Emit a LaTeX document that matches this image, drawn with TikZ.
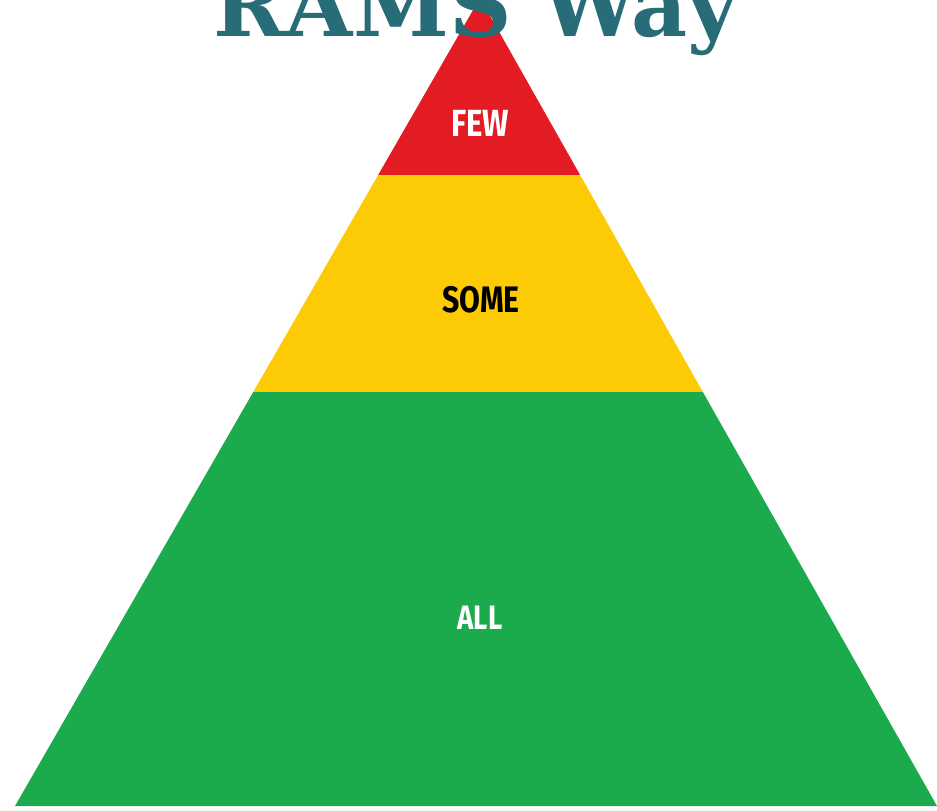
\documentclass[tikz,border=0pt]{standalone}
\usepackage{fontspec}
\usetikzlibrary{calc}
\newfontfamily\titlefont{DejaVu Serif}
\newfontfamily\labelfont{Fira Sans}[FakeStretch=0.82]
\definecolor{pyrred}{HTML}{E31B23}
\definecolor{pyryellow}{HTML}{FDCB05}
\definecolor{pyrgreen}{HTML}{1BAA4C}
\definecolor{titleteal}{HTML}{276C76}
\begin{document}
\begin{tikzpicture}[x=1bp,y=-1bp,
  layerlabel/.style={font=\labelfont\bfseries, inner sep=0pt, anchor=center},
  titletext/.style={font=\titlefont\bfseries\fontsize{87}{92}\selectfont, text=titleteal, inner sep=0pt, anchor=base}]
\useasboundingbox (0,0) rectangle (937,811);
\fill[white] (0,0) rectangle (937,811);
% pyramid corners
\coordinate (apex) at (480,-2);
\coordinate (bl) at (15,806);
\coordinate (br) at (937,806);
% band boundaries
\coordinate (ryl) at ($(apex)!{177/808}!(bl)$);
\coordinate (ryr) at ($(apex)!{177/808}!(br)$);
\coordinate (ygl) at ($(apex)!{394/808}!(bl)$);
\coordinate (ygr) at ($(apex)!{394/808}!(br)$);
\fill[pyrgreen] (ygl) -- (ygr) -- (br) -- (bl) -- cycle;
\fill[pyryellow] (ryl) -- (ryr) -- (ygr) -- (ygl) -- cycle;
\fill[pyrred] (apex) -- (ryr) -- (ryl) -- cycle;
\node[layerlabel, text=white, font=\labelfont\bfseries\fontsize{38}{40}\selectfont] (few) at (480,123) {FEW};
\node[layerlabel, text=black, font=\labelfont\bfseries\fontsize{37}{40}\selectfont] (some) at (481,300) {SOME};
\node[layerlabel, text=white, font=\labelfont\bfseries\fontsize{34}{36}\selectfont] (all) at (480,618) {ALL};
\node[titletext] (title) at (476,37) {RAMS Way};
\end{tikzpicture}
\end{document}
